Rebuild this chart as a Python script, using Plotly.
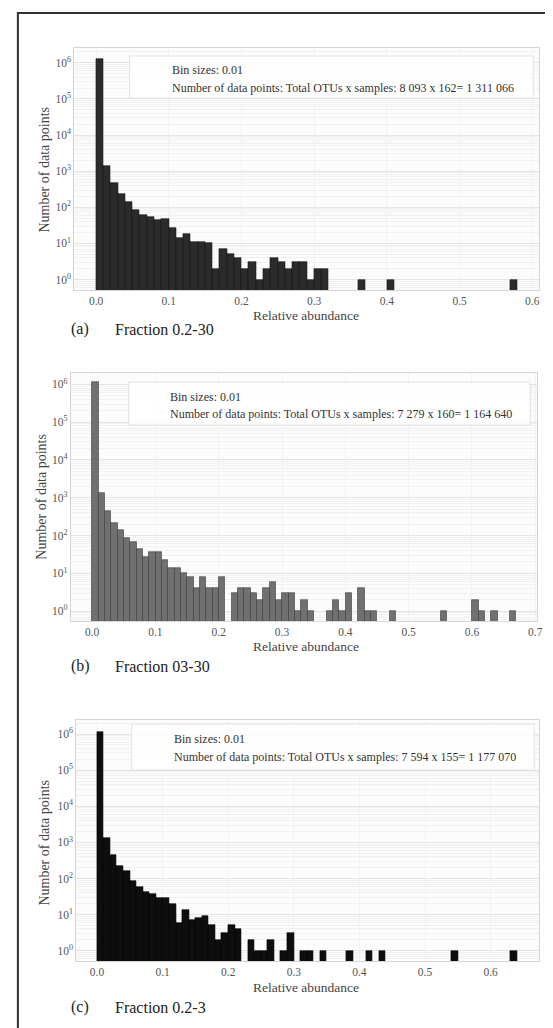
import plotly.graph_objects as go

W, H = 553, 1028
BIN = 0.01

# ---------------- data (bin left edges, counts) ----------------
a_edges = [0.00, 0.01, 0.02, 0.03, 0.04, 0.05, 0.06, 0.07, 0.08, 0.09,
           0.10, 0.11, 0.12, 0.13, 0.14, 0.15, 0.16, 0.17, 0.18, 0.19,
           0.20, 0.21, 0.22, 0.23, 0.24, 0.25, 0.26, 0.27, 0.28, 0.29,
           0.30, 0.31, 0.36, 0.40, 0.57]
a_counts = [1308300, 1400, 474, 227, 140, 83, 63, 54, 44, 47,
            26, 14, 18, 11, 11, 10, 2, 7, 5, 4,
            2, 3, 1, 2, 4, 3, 2, 3, 3, 1,
            2, 2, 1, 1, 1]

b_edges = [0.00, 0.01, 0.02, 0.03, 0.04, 0.05, 0.06, 0.07, 0.08, 0.09,
           0.10, 0.11, 0.12, 0.13, 0.14, 0.15, 0.16, 0.17, 0.18, 0.19,
           0.20, 0.22, 0.23, 0.24, 0.25, 0.26, 0.27, 0.28, 0.29, 0.30,
           0.31, 0.32, 0.33, 0.34, 0.37, 0.38, 0.39, 0.40, 0.42, 0.43,
           0.44, 0.47, 0.55, 0.60, 0.61, 0.63, 0.66]
b_counts = [1161900, 1350, 445, 212, 140, 85, 67, 44, 27, 36,
            36, 22, 14, 14, 10, 8, 4, 8, 4, 4,
            8, 3, 4, 4, 3, 2, 4, 6, 2, 3,
            3, 1, 2, 1, 1, 2, 1, 3, 4, 1,
            1, 1, 1, 2, 1, 1, 1]

c_edges = [0.00, 0.01, 0.02, 0.03, 0.04, 0.05, 0.06, 0.07, 0.08, 0.09,
           0.10, 0.11, 0.12, 0.13, 0.14, 0.15, 0.16, 0.17, 0.18, 0.19,
           0.20, 0.21, 0.23, 0.24, 0.25, 0.26, 0.28, 0.29, 0.31, 0.32,
           0.34, 0.38, 0.41, 0.43, 0.54, 0.63]
c_counts = [1174500, 1350, 445, 218, 166, 88, 58, 42, 38, 29,
            29, 20, 6, 13, 7, 8, 9, 5, 2, 3,
            5, 4, 2, 1, 1, 2, 1, 3, 1, 1,
            1, 1, 1, 1, 1, 1]

y_tickvals = [1, 10, 100, 1000, 10000, 100000, 1000000]
y_ticktext = ["10<sup>%d</sup>" % k for k in range(7)]
x_ticks_a = [0.0, 0.1, 0.2, 0.3, 0.4, 0.5, 0.6]
x_ticks_b = [0.0, 0.1, 0.2, 0.3, 0.4, 0.5, 0.6, 0.7]
x_ticks_c = [0.0, 0.1, 0.2, 0.3, 0.4, 0.5, 0.6]

legend_line1 = "Bin sizes: 0.01"
legend_a = "Number of data points: Total OTUs x samples: 8 093 x 162= 1 311 066"
legend_b = "Number of data points: Total OTUs x samples: 7 279 x 160= 1 164 640"
legend_c = "Number of data points: Total OTUs x samples: 7 594 x 155= 1 177 070"
captions = [("(a)", "Fraction 0.2-30"), ("(b)", "Fraction 03-30"), ("(c)", "Fraction 0.2-3")]
x_title = "Relative abundance"
y_title = "Number of data points"

FONT = "Liberation Serif, Times New Roman, serif"

# ---------------- layout geometry (pixels) ----------------
panels = [
    dict(edges=a_edges, counts=a_counts, ticks=x_ticks_a, fill="#2b2b2b", edge="#141414",
         px=(67, 537), py=(40, 282), xr=[-0.030, 0.6095], yr=[-0.29, 6.41],
         box=(123, 531, 48, 90), l1=62, l2=80, tx=164, ttl=(301, 307), cap=321,
         ytl=(36, 162)),
    dict(edges=b_edges, counts=b_counts, ticks=x_ticks_b, fill="#707070", edge="#3a3a3a",
         px=(63.5, 535), py=(365, 613), xr=[-0.0336, 0.703], yr=[-0.26, 6.30],
         box=(122, 528, 374, 417), l1=389, l2=406, tx=162, ttl=(301, 638), cap=658,
         ytl=(33, 489)),
    dict(edges=c_edges, counts=c_counts, ticks=x_ticks_c, fill="#0e0e0e", edge="#000000",
         px=(69, 537), py=(712, 953), xr=[-0.0317, 0.674], yr=[-0.285, 6.39],
         box=(125, 532, 716, 762), l1=731, l2=749, tx=166, ttl=(301, 979), cap=999,
         ytl=(36, 835)),
]
legend_texts = [legend_a, legend_b, legend_c]


def px_x(v):
    return v / W


def px_y(v):
    return 1 - v / H


fig = go.Figure()
shapes = []
annotations = []

for i, p in enumerate(panels):
    n = i + 1
    xa = "x" if n == 1 else "x%d" % n
    ya = "y" if n == 1 else "y%d" % n
    fig.add_trace(go.Bar(
        x=[e + BIN / 2 for e in p["edges"]], y=p["counts"], width=BIN,
        marker=dict(color=p["fill"], line=dict(color=p["edge"], width=0.6)),
        xaxis=xa, yaxis=ya, showlegend=False,
    ))
    xkey = "xaxis" if n == 1 else "xaxis%d" % n
    ykey = "yaxis" if n == 1 else "yaxis%d" % n
    fig.update_layout(**{
        xkey: dict(domain=[px_x(p["px"][0]), px_x(p["px"][1])], anchor=ya,
                   range=p["xr"], tickvals=p["ticks"],
                   ticktext=["%.1f" % t for t in p["ticks"]],
                   showgrid=True, gridcolor="#f2f2f2", zeroline=False,
                   showline=True, mirror=True, linecolor="#d4d4d4", linewidth=1,
                   ticks="", ticklen=3,
                   tickfont=dict(family=FONT, size=11.5, color="#555555")),
        ykey: dict(domain=[px_y(p["py"][1]), px_y(p["py"][0])], anchor=xa,
                   type="log", range=p["yr"], tickvals=y_tickvals, ticktext=y_ticktext,
                   showgrid=True, gridcolor="#e4e4e4", zeroline=False,
                   minor=dict(showgrid=True, gridcolor="#f1f1f1", dtick="D1"),
                   showline=True, mirror=True, linecolor="#d4d4d4", linewidth=1,
                   ticks="", tickfont=dict(family=FONT, size=11.5, color="#555555")),
    })
    bx0, bx1, by0, by1 = p["box"]
    shapes.append(dict(type="rect", xref="paper", yref="paper",
                       x0=px_x(bx0), x1=px_x(bx1), y0=px_y(by1), y1=px_y(by0),
                       fillcolor="rgba(255,255,255,0.85)",
                       line=dict(color="#e2e2e2", width=1), layer="above"))
    annotations.append(dict(xref="paper", yref="paper", x=px_x(p["tx"]), y=px_y(p["l1"]),
                            xanchor="left", yanchor="middle", showarrow=False,
                            text=legend_line1, font=dict(family=FONT, size=12, color="#333333")))
    annotations.append(dict(xref="paper", yref="paper", x=px_x(p["tx"]), y=px_y(p["l2"]),
                            xanchor="left", yanchor="middle", showarrow=False,
                            text=legend_texts[i], font=dict(family=FONT, size=12, color="#333333")))
    annotations.append(dict(xref="paper", yref="paper", x=px_x(p["ttl"][0]), y=px_y(p["ttl"][1]),
                            xanchor="center", yanchor="middle", showarrow=False,
                            text=x_title, font=dict(family=FONT, size=13.5, color="#444444")))
    annotations.append(dict(xref="paper", yref="paper", x=px_x(p["ytl"][0]), y=px_y(p["ytl"][1]),
                            xanchor="center", yanchor="middle", showarrow=False, textangle=-90,
                            text=y_title, font=dict(family=FONT, size=14, color="#444444")))
    annotations.append(dict(xref="paper", yref="paper", x=px_x(62), y=px_y(p["cap"]),
                            xanchor="left", yanchor="middle", showarrow=False,
                            text=captions[i][0], font=dict(family=FONT, size=16, color="#222222")))
    annotations.append(dict(xref="paper", yref="paper", x=px_x(106), y=px_y(p["cap"]),
                            xanchor="left", yanchor="middle", showarrow=False,
                            text=captions[i][1], font=dict(family=FONT, size=16, color="#222222")))

# outer frame
shapes.append(dict(type="rect", xref="paper", yref="paper",
                   x0=px_x(10), x1=px_x(546), y0=-0.02, y1=px_y(5),
                   line=dict(color="#333333", width=2), fillcolor="rgba(0,0,0,0)"))

fig.update_layout(
    width=W, height=H, margin=dict(l=0, r=0, t=0, b=0),
    paper_bgcolor="white", plot_bgcolor="#fcfcfc",
    bargap=0, shapes=shapes, annotations=annotations,
    font=dict(family=FONT),
)

fig.write_html("out.html")
